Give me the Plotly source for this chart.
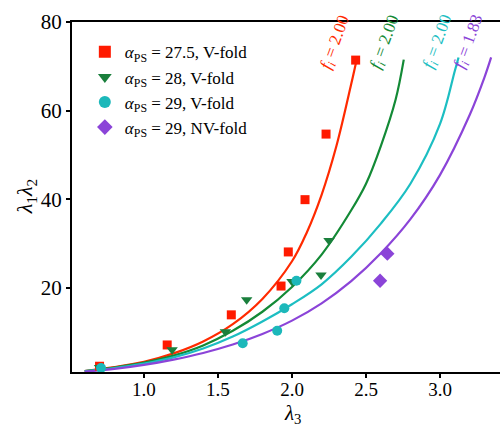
import plotly.graph_objects as go

# ---- data ----
red_x = [0.70, 1.157, 1.59, 1.926, 1.975, 2.088, 2.23, 2.43]
red_y = [2.3, 7.1, 13.9, 20.4, 28.1, 39.9, 54.7, 71.4]
green_x = [0.70, 1.19, 1.55, 1.694, 2.00, 2.196, 2.25]
green_y = [2.0, 6.0, 10.1, 17.3, 21.4, 22.9, 30.7]
cyan_x = [0.71, 1.667, 1.90, 1.948, 2.03]
cyan_y = [1.9, 7.5, 10.3, 15.4, 21.6]
purple_x = [2.595, 2.644]
purple_y = [21.6, 27.7]

# fitted curves
red_cx = [0.60, 0.80, 1.00, 1.20, 1.40, 1.60, 1.80, 2.00, 2.10, 2.20, 2.30, 2.40, 2.44]
red_cy = [1.2, 2.1, 3.3, 5.2, 7.9, 11.8, 17.5, 26.0, 32.5, 41.0, 52.0, 66.0, 72.0]
green_cx = [0.60, 0.80, 1.00, 1.20, 1.40, 1.60, 1.80, 2.00, 2.20, 2.40, 2.50, 2.60, 2.70, 2.755]
green_cy = [1.2, 2.0, 3.1, 4.7, 7.0, 10.3, 14.6, 20.2, 27.5, 37.5, 43.5, 52.0, 62.5, 71.5]
cyan_cx = [0.60, 0.80, 1.00, 1.20, 1.40, 1.60, 1.80, 2.00, 2.20, 2.40, 2.60, 2.80, 3.00, 3.10, 3.125]
cyan_cy = [1.2, 1.9, 2.9, 4.3, 6.3, 9.0, 12.4, 16.3, 20.8, 27.0, 34.5, 43.5, 57.0, 69.0, 72.0]
purple_cx = [0.60, 0.80, 1.00, 1.20, 1.40, 1.60, 1.80, 2.00, 2.20, 2.40, 2.60, 2.80, 3.00, 3.20, 3.30, 3.345]
purple_cy = [1.1, 1.7, 2.6, 3.8, 5.3, 7.2, 9.6, 12.6, 16.5, 21.5, 27.8, 35.5, 45.5, 59.0, 67.5, 72.0]

labels = ["<i>α</i><sub>PS</sub> = 27.5, V-fold",
          "<i>α</i><sub>PS</sub> = 28, V-fold",
          "<i>α</i><sub>PS</sub> = 29, V-fold",
          "<i>α</i><sub>PS</sub> = 29, NV-fold"]
fi_text = ["2.00", "2.00", "2.00", "1.83"]
fi_x = [2.30, 2.635, 2.99, 3.20]
fi_y = [75.4, 75.4, 75.4, 75.4]

c_red, c_green, c_cyan, c_purple = "#FF2A00", "#138A36", "#1CBEC2", "#8B44D8"
m_red, m_green, m_cyan, m_purple = "#FF1A00", "#1A7F3C", "#1CB8BA", "#8B44D8"

FONT = "Liberation Serif"

fig = go.Figure()
for cx, cy, col in [(red_cx, red_cy, c_red), (green_cx, green_cy, c_green),
                    (cyan_cx, cyan_cy, c_cyan), (purple_cx, purple_cy, c_purple)]:
    fig.add_trace(go.Scatter(x=cx, y=cy, mode="lines",
                             line=dict(color=col, width=2.2, shape="spline", smoothing=1.0),
                             showlegend=False, hoverinfo="skip"))

for xs, ys, col, sym, sz, lab in [
        (red_x, red_y, m_red, "square", 9, labels[0]),
        (green_x, green_y, m_green, "triangle-down", 10, labels[1]),
        (cyan_x, cyan_y, m_cyan, "circle", 10, labels[2]),
        (purple_x, purple_y, m_purple, "diamond", 11, labels[3])]:
    fig.add_trace(go.Scatter(x=xs, y=ys, mode="markers", name=lab,
                             marker=dict(color=col, symbol=sym, size=sz, line=dict(width=0))))

for tx, ty, t, col in zip(fi_x, fi_y, fi_text, [c_red, c_green, c_cyan, c_purple]):
    fig.add_annotation(x=tx, y=ty, text="<i>f</i><sub><i>i</i></sub> = " + t, showarrow=False,
                       textangle=-70, font=dict(family=FONT, size=17, color=col))

# axis titles
fig.add_annotation(xref="paper", yref="paper", x=0.516, y=-0.121, xanchor="center", yanchor="middle",
                   text="<i>λ</i><sub>3</sub>",
                   showarrow=False, font=dict(family=FONT, size=21, color="black"))
fig.add_annotation(xref="paper", yref="paper", x=-0.107, y=0.5, xanchor="center", yanchor="middle",
                   text="<i>λ</i><sub>1</sub><i>λ</i><sub>2</sub>", textangle=-90,
                   showarrow=False, font=dict(family=FONT, size=22, color="black"))

fig.update_layout(
    width=500, height=429,
    margin=dict(l=72, r=0, t=22, b=57),
    paper_bgcolor="white", plot_bgcolor="white",
    font=dict(family=FONT, size=19, color="black"),
    legend=dict(x=0.03, y=0.965, xanchor="left", yanchor="top", bgcolor="rgba(0,0,0,0)",
                font=dict(family=FONT, size=17), tracegroupgap=0, itemsizing="constant"),
    showlegend=True,
)
fig.update_xaxes(range=[0.514, 3.405], tickvals=[1.0, 1.5, 2.0, 2.5, 3.0],
                 ticktext=["1.0", "1.5", "2.0", "2.5", "3.0"],
                 showgrid=False, zeroline=False, showline=True, linecolor="black", linewidth=2,
                 mirror=True, ticks="outside", ticklen=4, tickwidth=2, tickcolor="black",
                 ticklabelstandoff=-5, tickfont=dict(size=19))
fig.update_yaxes(range=[1, 80], tickvals=[20, 40, 60, 80],
                 showgrid=False, zeroline=False, showline=True, linecolor="black", linewidth=2,
                 ticks="outside", ticklen=4, tickwidth=2, tickcolor="black",
                 tickfont=dict(size=21))

fig.write_html("out.html")
